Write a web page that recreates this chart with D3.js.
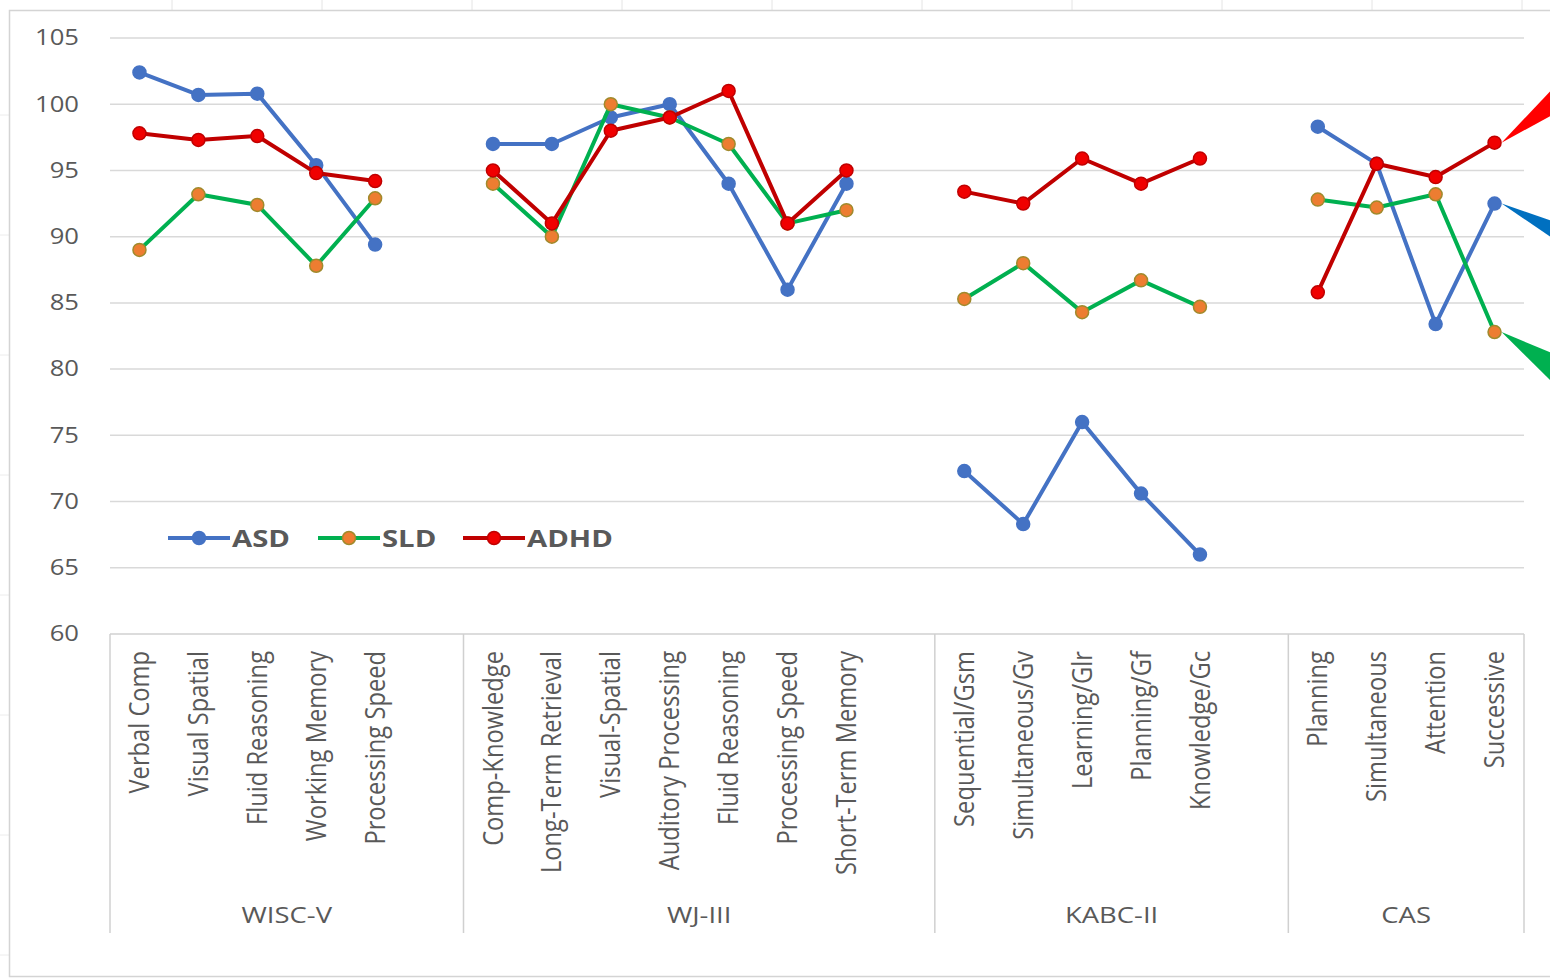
<!DOCTYPE html>
<html>
<head>
<meta charset="utf-8">
<script src="https://cdn.jsdelivr.net/npm/d3@7"></script>
<style>
  html, body { margin: 0; padding: 0; background: #ffffff; }
  svg { display: block; }
  text { font-family: "Open Sans", "DejaVu Sans", sans-serif; fill: #595959; }
</style>
</head>
<body>
<svg id="chart" width="1550" height="980"></svg>
<script>
// Index scores by test battery and cognitive domain ("" marks the spacer slot after a battery)
const groups = ["WISC-V", "WJ-III", "KABC-II", "CAS"];
const groupSizes = [6, 8, 6, 4];
const categories = [
  "Verbal Comp", "Visual Spatial", "Fluid Reasoning", "Working Memory", "Processing Speed", "",
  "Comp-Knowledge", "Long-Term Retrieval", "Visual-Spatial", "Auditory Processing", "Fluid Reasoning", "Processing Speed", "Short-Term Memory", "",
  "Sequential/Gsm", "Simultaneous/Gv", "Learning/Glr", "Planning/Gf", "Knowledge/Gc", "",
  "Planning", "Simultaneous", "Attention", "Successive"
];
const seriesNames = ["ASD", "SLD", "ADHD"];
const asdValues = [102.4, 100.7, 100.8, 95.4, 89.4, null,
  97, 97, 99, 100, 94, 86, 94, null,
  72.3, 68.3, 76, 70.6, 66, null,
  98.3, 95.5, 83.4, 92.5];
const sldValues = [89, 93.2, 92.4, 87.8, 92.9, null,
  94, 90, 100, 99, 97, 91, 92, null,
  85.3, 88, 84.3, 86.7, 84.7, null,
  92.8, 92.2, 93.2, 82.8];
const adhdValues = [97.8, 97.3, 97.6, 94.8, 94.2, null,
  95, 91, 98, 99, 101, 91, 95, null,
  93.4, 92.5, 95.9, 94, 95.9, null,
  85.8, 95.5, 94.5, 97.1];
const yTicks = [60, 65, 70, 75, 80, 85, 90, 95, 100, 105];

const styles = {
  ASD:  { line: "#4472C4", fill: "#4472C4", stroke: "#4472C4", callout: "#0070C0" },
  SLD:  { line: "#00B050", fill: "#ED7D31", stroke: "#A08A2C", callout: "#00B050" },
  ADHD: { line: "#C00000", fill: "#F00000", stroke: "#C00000", callout: "#FF0000" }
};
const seriesValues = { ASD: asdValues, SLD: sldValues, ADHD: adhdValues };

const svg = d3.select("#chart");
const W = 1550, H = 980;
const plot = { left: 110, right: 1524, top: 38, bottom: 634 };
const SX = 1.22; // horizontal stretch of the lettering

// worksheet cells behind the chart object
const sheet = svg.append("g");
d3.range(172, W, 150).forEach(x =>
  sheet.append("line").attr("x1", x).attr("x2", x).attr("y1", 0).attr("y2", 10)
    .attr("stroke", "#e4e4e4").attr("stroke-width", 1));
d3.range(115, H, 120).forEach(y =>
  sheet.append("line").attr("x1", 0).attr("x2", 9).attr("y1", y).attr("y2", y)
    .attr("stroke", "#ececec").attr("stroke-width", 1));

// chart object frame
svg.append("rect").attr("x", 9.5).attr("y", 10.5).attr("width", W + 20).attr("height", 966)
  .attr("fill", "#ffffff").attr("stroke", "#d4d4d4").attr("stroke-width", 1.5);

const slotIds = categories.map((c, i) => i);
const x = d3.scaleBand().domain(slotIds).range([plot.left, plot.right]).padding(0);
const cx = i => x(i) + x.bandwidth() / 2;
const y = d3.scaleLinear().domain([60, 105]).range([plot.bottom, plot.top]);

// horizontal gridlines
svg.append("g").selectAll("line").data(yTicks.filter(t => t > 60)).join("line")
  .attr("x1", plot.left).attr("x2", plot.right)
  .attr("y1", d => y(d)).attr("y2", d => y(d))
  .attr("stroke", "#d9d9d9").attr("stroke-width", 1.5);

// y tick labels
svg.append("g").selectAll("text").data(yTicks).join("text")
  .attr("transform", d => `translate(79,${y(d)}) scale(${SX},1)`)
  .attr("text-anchor", "end").attr("dy", "0.35em")
  .style("font-size", "21px")
  .text(d => d);

// category axis line
svg.append("line").attr("x1", plot.left).attr("x2", plot.right)
  .attr("y1", plot.bottom).attr("y2", plot.bottom)
  .attr("stroke", "#d0d0d0").attr("stroke-width", 1.5);

// battery dividers and battery names
let start = 0;
const groupSpans = groupSizes.map(n => { const s = start; start += n; return [s, start - 1]; });
const dividerXs = [x(0)].concat(groupSpans.map(([, e]) => x(e) + x.bandwidth()));
svg.append("g").selectAll("line").data(dividerXs).join("line")
  .attr("x1", d => d).attr("x2", d => d).attr("y1", plot.bottom).attr("y2", 933)
  .attr("stroke", "#d0d0d0").attr("stroke-width", 1.5);
svg.append("g").selectAll("text").data(groups).join("text")
  .attr("transform", (g, i) => {
    const [s, e] = groupSpans[i];
    const mid = (x(s) + x(e) + x.bandwidth()) / 2;
    return `translate(${mid},915) scale(${SX},1)`;
  })
  .attr("text-anchor", "middle").attr("dy", "0.35em")
  .style("font-size", "22.5px")
  .text(d => d);

// rotated domain labels
svg.append("g").selectAll("text").data(slotIds.filter(i => categories[i] !== "")).join("text")
  .attr("transform", i => `translate(${cx(i)},651) scale(1.12,1) rotate(-90)`)
  .attr("text-anchor", "end").attr("dy", "0.36em")
  .style("font-size", "23.7px")
  .text(i => categories[i]);

// series lines and markers
const line = d3.line().defined(d => d.v != null).x(d => cx(d.i)).y(d => y(d.v));
seriesNames.forEach(name => {
  const st = styles[name];
  const pts = seriesValues[name].map((v, i) => ({ i, v }));
  const g = svg.append("g");
  g.append("path").datum(pts).attr("d", line)
    .attr("fill", "none").attr("stroke", st.line).attr("stroke-width", 4)
    .attr("stroke-linejoin", "round");
  g.selectAll("circle").data(pts.filter(d => d.v != null)).join("circle")
    .attr("cx", d => cx(d.i)).attr("cy", d => y(d.v)).attr("r", 6.5)
    .attr("fill", st.fill).attr("stroke", st.stroke).attr("stroke-width", 1.5);
});

// legend
const legendItems = [
  { name: "ASD", x0: 168 },
  { name: "SLD", x0: 318 },
  { name: "ADHD", x0: 463 }
];
const lg = svg.append("g");
legendItems.forEach(it => {
  const st = styles[it.name];
  lg.append("line").attr("x1", it.x0).attr("x2", it.x0 + 62).attr("y1", 538).attr("y2", 538)
    .attr("stroke", st.line).attr("stroke-width", 4);
  lg.append("circle").attr("cx", it.x0 + 31).attr("cy", 538).attr("r", 6.5)
    .attr("fill", st.fill).attr("stroke", st.stroke).attr("stroke-width", 1.5);
  lg.append("text").attr("transform", `translate(${it.x0 + 64},538) scale(${SX},1)`)
    .attr("dy", "0.36em").style("font-size", "24px").style("font-weight", "bold")
    .text(it.name);
});

// callout pointers aimed at each series' last score
const last = categories.length - 1;
const callouts = [
  { name: "ADHD", dx: 60, dy: -46, half: 12 },
  { name: "ASD",  dx: 60, dy: 30,  half: 9 },
  { name: "SLD",  dx: 60, dy: 40,  half: 14 }
];
callouts.forEach(c => {
  const tx = cx(last) + 7, ty = y(seriesValues[c.name][last]);
  const len = Math.hypot(c.dx, c.dy);
  const nx = -c.dy / len, ny = c.dx / len;
  const ex = tx + c.dx, ey = ty + c.dy;
  svg.append("polygon")
    .attr("points", [[tx, ty], [ex + nx * c.half, ey + ny * c.half], [ex - nx * c.half, ey - ny * c.half]]
      .map(p => p.join(",")).join(" "))
    .attr("fill", styles[c.name].callout);
});
</script>
</body>
</html>
